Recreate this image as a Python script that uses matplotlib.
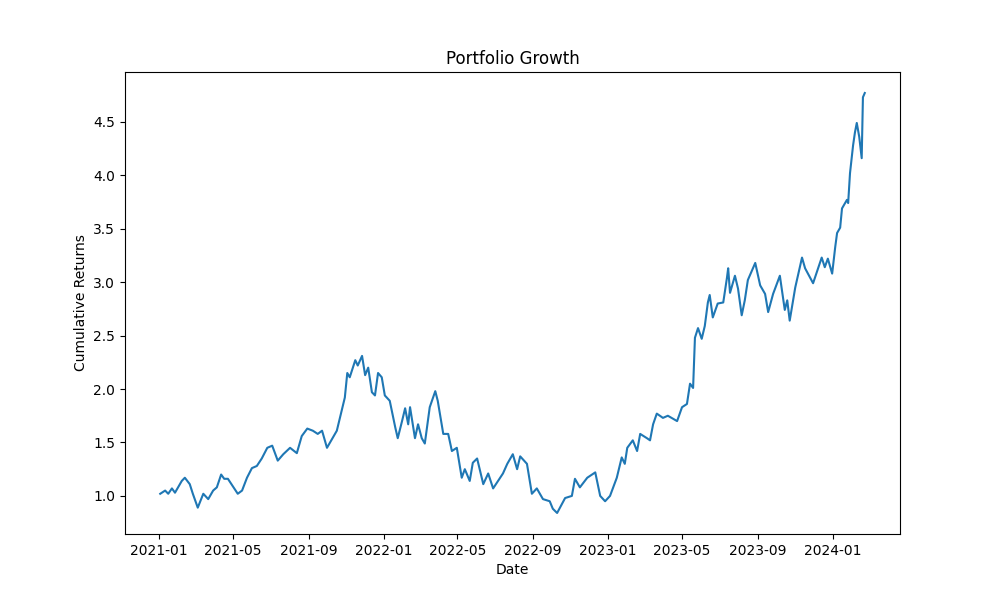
import numpy as np
import pandas as pd
from matplotlib import pyplot as plt

# day offsets from 2021-01-01 and cumulative return
day_offsets = [2, 10, 15, 21, 26, 37, 42, 50, 55, 63, 72, 80, 88, 94, 101, 106, 112, 120, 128, 135,
               143, 151, 159, 167, 176, 184, 193, 202, 213, 224, 232, 241, 250, 258, 265, 273, 281, 289, 297, 302,
               306, 310, 319, 323, 330, 335, 340, 346, 351, 356, 362, 367, 375, 384, 388, 395, 400, 405, 408, 416,
               421, 427, 432, 440, 449, 453, 462, 470, 476, 484, 492, 497, 505, 510, 517, 527, 535, 543, 551, 559,
               566, 575, 582, 587, 598, 606, 614, 624, 635, 640, 647, 660, 671, 676, 684, 696, 709, 717, 725, 733,
               744, 752, 757, 761, 770, 777, 782, 793, 798, 803, 809, 819, 827, 842, 850, 858, 863, 868, 871, 876,
               882, 887, 892, 895, 900, 908, 917, 923, 925, 928, 936, 941, 947, 952, 957, 969, 977, 985, 990, 998,
               1009, 1017, 1021, 1025, 1034, 1045, 1050, 1063, 1077, 1082, 1087, 1094, 1099, 1102, 1107, 1110, 1118, 1120, 1123, 1128,
               1131, 1134, 1138, 1142, 1144, 1147]
cum_returns = [1.02, 1.05, 1.02, 1.07, 1.03, 1.14, 1.17, 1.11, 1.02, 0.89, 1.02, 0.97, 1.05, 1.08, 1.20, 1.16, 1.16, 1.09, 1.02, 1.05,
               1.17, 1.26, 1.28, 1.35, 1.45, 1.47, 1.33, 1.39, 1.45, 1.40, 1.56, 1.63, 1.61, 1.58, 1.61, 1.45, 1.53, 1.61, 1.80, 1.92,
               2.15, 2.11, 2.27, 2.22, 2.31, 2.13, 2.20, 1.97, 1.94, 2.15, 2.11, 1.94, 1.89, 1.64, 1.54, 1.70, 1.82, 1.67, 1.83, 1.54,
               1.67, 1.54, 1.49, 1.83, 1.98, 1.89, 1.58, 1.58, 1.42, 1.45, 1.17, 1.25, 1.14, 1.31, 1.35, 1.11, 1.21, 1.07, 1.14, 1.21,
               1.30, 1.39, 1.25, 1.37, 1.30, 1.02, 1.07, 0.97, 0.95, 0.88, 0.84, 0.98, 1.00, 1.16, 1.08, 1.17, 1.22, 1.00, 0.95, 1.00,
               1.17, 1.36, 1.30, 1.45, 1.52, 1.42, 1.58, 1.54, 1.52, 1.67, 1.77, 1.73, 1.75, 1.70, 1.83, 1.86, 2.05, 2.01, 2.48, 2.57,
               2.47, 2.59, 2.81, 2.88, 2.67, 2.80, 2.81, 3.04, 3.13, 2.90, 3.06, 2.94, 2.69, 2.83, 3.02, 3.18, 2.97, 2.89, 2.72, 2.89,
               3.06, 2.74, 2.83, 2.64, 2.95, 3.23, 3.13, 2.99, 3.23, 3.14, 3.22, 3.08, 3.33, 3.46, 3.51, 3.69, 3.77, 3.74, 4.02, 4.28,
               4.40, 4.49, 4.36, 4.16, 4.73, 4.77]

dates = pd.Timestamp("2021-01-01") + pd.to_timedelta(day_offsets, unit="D")

fig, ax = plt.subplots(figsize=(10, 6), dpi=100)
ax.plot(dates, cum_returns, color="#1f77b4")
ax.set_title("Portfolio Growth")
ax.set_xlabel("Date")
ax.set_ylabel("Cumulative Returns")
fig.savefig("out.png")
